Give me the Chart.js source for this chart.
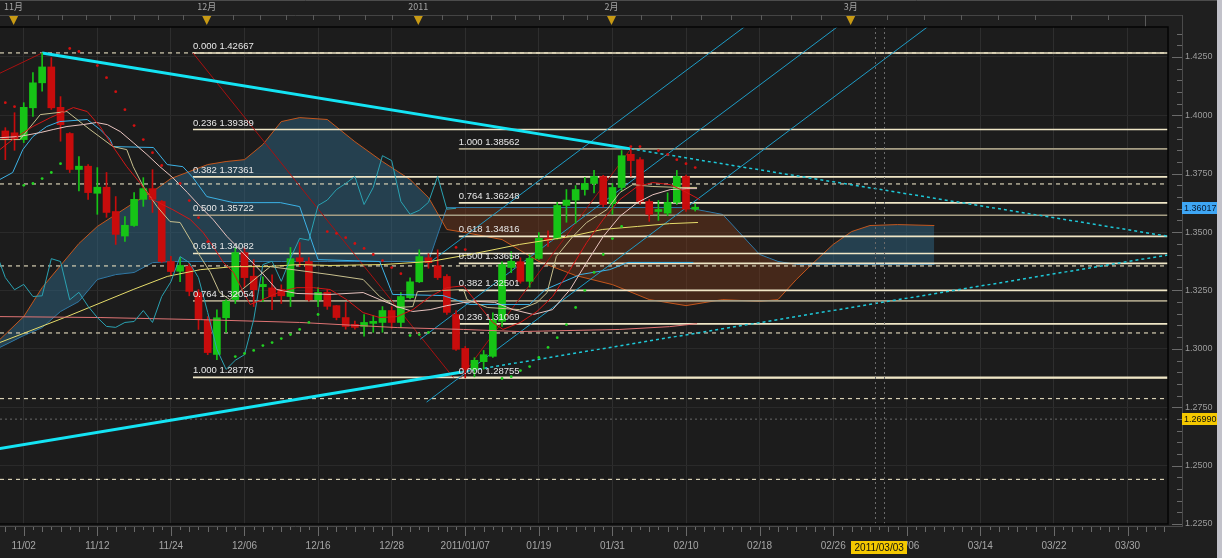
<!DOCTYPE html>
<html>
<head>
<meta charset="utf-8">
<title>EUR/USD 日足</title>
<script src="https://cdn.jsdelivr.net/npm/chart.js@4.4.0/dist/chart.umd.min.js"></script>
<style>
  html, body { margin: 0; padding: 0; background: #1f1f1f; overflow: hidden; }
  #wrap { width: 1222px; height: 558px; }
  canvas { display: block; }
</style>
</head>
<body>
<div id="wrap"><canvas id="chart" width="1222" height="558"></canvas></div>
<script>
// ---- daily candles (slot -2 = 10/29 ... slot 73 = 02/11) ----
const firstSlot = -2;
const opens  = [1.3933,1.3925,1.3896,1.4032,1.4139,1.4207,1.4034,1.3922,1.3768,1.3782,1.3666,1.3692,1.3588,1.3483,1.3528,1.3640,1.3686,1.3631,1.3374,1.3332,1.3353,1.3241,1.3125,1.2976,1.3133,1.3211,1.3412,1.3311,1.3266,1.3261,1.3254,1.3224,1.3390,1.3374,1.3210,1.3242,1.3185,1.3134,1.3105,1.3096,1.3109,1.3113,1.3164,1.3113,1.3219,1.3287,1.3390,1.3356,1.3310,1.3147,1.3002,1.2912,1.2945,1.2968,1.3118,1.3348,1.3373,1.3289,1.3387,1.3473,1.3473,1.3614,1.3637,1.3682,1.3708,1.3738,1.3622,1.3691,1.3833,1.3810,1.3631,1.3588,1.3581,1.3627,1.3738,1.3598];
const highs  = [1.3947,1.4011,1.4054,1.4183,1.42667,1.4247,1.4080,1.3926,1.3823,1.3789,1.3776,1.3755,1.3652,1.3566,1.3669,1.3733,1.3767,1.3635,1.3396,1.3391,1.3366,1.3254,1.3138,1.3167,1.3211,1.3433,1.3433,1.3382,1.3308,1.3317,1.3274,1.3434,1.3455,1.3391,1.3262,1.3254,1.3186,1.3198,1.3119,1.3147,1.3143,1.3181,1.3181,1.3241,1.3304,1.3424,1.3407,1.3424,1.3318,1.3164,1.3010,1.2962,1.2993,1.3154,1.3373,1.3416,1.3390,1.3404,1.3498,1.3505,1.3627,1.3682,1.3699,1.3734,1.3764,1.3743,1.3708,1.3849,1.38562,1.3819,1.3640,1.3635,1.3668,1.3764,1.3744,1.3620];
const lows   = [1.3810,1.3850,1.3883,1.3995,1.4103,1.4025,1.3889,1.3755,1.3676,1.3640,1.3576,1.3563,1.3447,1.3460,1.3524,1.3610,1.3584,1.3370,1.3315,1.3288,1.3227,1.3083,1.2975,1.2954,1.3070,1.3194,1.3265,1.3181,1.3202,1.3168,1.3194,1.3181,1.3352,1.3204,1.3181,1.3169,1.3124,1.3084,1.3084,1.3054,1.3071,1.3071,1.3088,1.3092,1.3214,1.3284,1.3345,1.3297,1.3147,1.2993,1.28755,1.2880,1.2913,1.2963,1.3096,1.3326,1.3281,1.3264,1.3383,1.3439,1.3469,1.3542,1.3538,1.3658,1.3668,1.3608,1.3576,1.3678,1.3739,1.3618,1.3546,1.3550,1.3570,1.3618,1.3588,1.3590];
const closes = [1.3896,1.3900,1.4034,1.4139,1.4207,1.4032,1.3960,1.3768,1.3782,1.3669,1.3692,1.3584,1.3490,1.3529,1.3640,1.3686,1.3640,1.3374,1.3331,1.3357,1.3246,1.3125,1.2984,1.3133,1.3204,1.3412,1.3305,1.3253,1.3276,1.3224,1.3227,1.3386,1.3374,1.3210,1.3242,1.3182,1.3134,1.3096,1.3092,1.3113,1.3117,1.3164,1.3113,1.3224,1.3287,1.3395,1.3369,1.3305,1.3156,1.2998,1.2912,1.2951,1.2975,1.3125,1.3361,1.3375,1.3289,1.3387,1.3473,1.3465,1.3614,1.3637,1.3682,1.3708,1.3738,1.3618,1.3691,1.3827,1.3806,1.3631,1.3576,1.3593,1.3627,1.3738,1.3598,1.36017];

// ---- date axis ----
const dateSlots  = [0, 8, 16, 24, 32, 40, 48, 56, 64, 72, 80, 88, 96, 104, 112, 120];
const dateLabels = ['11/02','11/12','11/24','12/06','12/16','12/28','2011/01/07','01/19','01/31','02/10','02/18','02/26','03/06','03/14','03/22','03/30'];
const monthSlots  = [-1.1, 19.9, 42.9, 63.9, 89.9, 121.9];
const monthLabels = ['11月', '12月', '2011', '2月', '3月', ''];
const cursorSlot  = 93;
const cursorDate  = '2011/03/03';
const cursorPrice = 1.26990;
const lastPrice   = 1.36017;

// ---- price axis ----
const priceMin = 1.2250, priceMax = 1.4378;

// ---- fibonacci retracements ----
const fibRatiosA = ['0.000','0.236','0.382','0.500','0.618','0.764','1.000'];
const fibPricesA = [1.42667, 1.39389, 1.37361, 1.35722, 1.34082, 1.32054, 1.28776];
const fibStartA  = 18.4;
const fibRatiosB = ['1.000','0.764','0.618','0.500','0.382','0.236','0.000'];
const fibPricesB = [1.38562, 1.36248, 1.34816, 1.33658, 1.32501, 1.31069, 1.28755];
const fibStartB  = 47.3;

// ---- horizontal level lines ----
const dashLevels = [1.4267, 1.3706, 1.3355, 1.3068, 1.2787, 1.2441];

// ---- trend lines [slot, price] ----
const trendDown    = [[2, 1.42667], [66, 1.38562]];
const trendDownExt = [[66, 1.38562], [124.4, 1.3482]];
const trendUp      = [[-2.6, 1.2573], [47.5, 1.2900]];
const trendUpExt   = [[47.5, 1.2900], [124.4, 1.3402]];
const channelA = [[43.8, 1.3360], [78.4, 1.4380]];
const channelB = [[43.1, 1.3041], [88.5, 1.4380]];
const channelC = [[43.8, 1.2772], [98.3, 1.4380]];
const swingLineA = [[-2.6, 1.4180], [2, 1.42667]];
const swingLineB = [[18.4, 1.42667], [46.7, 1.28776]];
const swingLineC = [[47.5, 1.28755], [66, 1.38562]];

// ---- ichimoku cloud ----
const cloudSlots = [-2.6,0,2,4,6,8,10,12,14,16,18,20,22,24,26,28,30,33,36,39,42,44,46,48,52,56,60,64,68,72,76,80,82,84,86,88,90,92,95,99];
const senkouA = [1.3040,1.3138,1.3262,1.3357,1.3451,1.3524,1.3575,1.3626,1.3673,1.3729,1.3759,1.3789,1.3802,1.3810,1.3875,1.3973,1.3990,1.3982,1.3887,1.3802,1.3725,1.3648,1.3511,1.3498,1.3468,1.3374,1.3314,1.3275,1.3211,1.3185,1.3211,1.3203,1.3211,1.3297,1.3374,1.3447,1.3502,1.3528,1.3532,1.3528];
const senkouB = [1.3006,1.3057,1.3091,1.3160,1.3203,1.3297,1.3318,1.3327,1.3369,1.3374,1.3374,1.3374,1.3374,1.3374,1.3374,1.3374,1.3374,1.3374,1.3374,1.3374,1.3374,1.3374,1.3605,1.3605,1.3605,1.3605,1.3605,1.3605,1.3605,1.3605,1.3575,1.3404,1.3374,1.3361,1.3361,1.3361,1.3361,1.3361,1.3361,1.3361];
const kijun = [[-2.6,1.3725],[-1.2,1.3755],[-0.1,1.3853],[1,1.3909],[2.5,1.3952],[3.9,1.3973],[6.9,1.3982],[8.3,1.3939],[9.4,1.3896],[9.7,1.3866],[14.1,1.3862],[15.6,1.3789],[17.3,1.3780],[18.4,1.3733],[19.9,1.3652],[22.8,1.3626],[27.9,1.3626],[30,1.3609],[32,1.3382],[38.7,1.3374],[40.1,1.3233],[45.6,1.3228],[48.5,1.3190],[55,1.3190],[56.7,1.3254],[60.5,1.3318],[63.7,1.3339],[65.7,1.3370],[72.8,1.3370]];
const tenkan = [[-2.6,1.3896],[-0.4,1.3896],[1.8,1.4003],[4.7,1.4016],[5.8,1.3982],[7.2,1.3939],[9.7,1.3866],[11.2,1.3853],[11.9,1.3780],[13,1.3695],[14.5,1.3609],[15.9,1.3545],[17,1.3541],[18.1,1.3468],[19.2,1.3395],[20.3,1.3327],[21.3,1.3241],[22.4,1.3211],[26.8,1.3352],[30.8,1.3331],[33.3,1.3318],[36.9,1.3297],[38.7,1.3224],[40.6,1.3177],[42.3,1.3181],[42.8,1.3245],[47.8,1.3254],[48.2,1.3211],[50.4,1.3177],[53.9,1.3168],[55.8,1.3198],[56.9,1.3241],[57.9,1.3395],[59.7,1.3481],[61.2,1.3541],[63.4,1.3596],[64.8,1.3669],[66.2,1.3703],[68.4,1.3695],[71.3,1.3691],[73.2,1.3691]];

// ---- moving averages [slot, price] ----
const maShort = [[-2.6,1.3853],[-1.2,1.3896],[1,1.3952],[2.9,1.3990],[5.4,1.4033],[6.9,1.4016],[8.3,1.3952],[9.7,1.3866],[11.2,1.3780],[12.6,1.3712],[14,1.3639],[16.2,1.3596],[18.1,1.3554],[19.5,1.3498],[20.6,1.3438],[21.7,1.3370],[22.8,1.3327],[24.6,1.3190],[26,1.3211],[27.9,1.3245],[29.7,1.3262],[31.5,1.3262],[33.3,1.3254],[35.1,1.3211],[36.9,1.3155],[38.7,1.3134],[40.6,1.3138],[42.3,1.3168],[44.2,1.3224],[46,1.3262],[47.8,1.3270],[49.6,1.3181],[51,1.3113],[52.1,1.3083],[54,1.3113],[55.8,1.3160],[57.5,1.3224],[59.4,1.3339],[61.2,1.3455],[63,1.3554],[64.8,1.3639],[66.7,1.3695],[68.4,1.3712],[70.3,1.3703],[72.1,1.3669],[73.5,1.3639]];
const maMid = [[-2.6,1.3904],[-0.5,1.3909],[1.8,1.3926],[3.2,1.3939],[4.7,1.3952],[6.4,1.3960],[7.9,1.3969],[9.1,1.3960],[10.5,1.3930],[11.9,1.3883],[13.4,1.3832],[14.8,1.3780],[16.2,1.3733],[17.8,1.3669],[19.2,1.3609],[20.6,1.3553],[22.1,1.3481],[23.5,1.3425],[25.7,1.3335],[27.5,1.3254],[29.7,1.3237],[33.3,1.3233],[36.9,1.3241],[38.7,1.3211],[40.6,1.3181],[42.3,1.3160],[44.2,1.3168],[46,1.3185],[47.8,1.3198],[49.4,1.3203],[51.2,1.3199],[53.2,1.3168],[55.4,1.3147],[57.5,1.3168],[59.4,1.3254],[61.2,1.3370],[63,1.3481],[64.8,1.3567],[66.7,1.3626],[68.4,1.3660],[70.3,1.3682],[72.1,1.3686],[73.2,1.3686]];
const maLong = [[-2.6,1.3027],[4.7,1.3138],[11.9,1.3254],[15.6,1.3310],[19.2,1.3339],[22.8,1.3352],[26.4,1.3352],[30,1.3361],[33.3,1.3357],[39.1,1.3361],[44.2,1.3374],[48.5,1.3404],[53.9,1.3447],[59.4,1.3481],[62.9,1.3511],[66.7,1.3524],[70.2,1.3536],[73.3,1.3541]];
const maLonger = [[-2.6,1.3138],[8.3,1.3134],[19.2,1.3125],[30,1.3113],[40.6,1.3091],[47.8,1.3083],[53.9,1.3074],[64.8,1.3083],[70.2,1.3095],[73.2,1.3108]];

// ---- parabolic SAR ----
const sarAbove = [[-2,1.4054],[-1,1.4037],[5,1.4286],[6,1.4273],[8,1.4213],[9,1.4161],[10,1.4101],[11,1.4024],[12,1.3956],[13,1.3896],[14,1.3840],[15,1.3785],[17,1.3708],[18,1.3635],[19,1.3562],[20,1.3459],[33,1.3502],[34,1.3494],[35,1.3476],[36,1.3451],[37,1.3430],[38,1.3404],[39,1.3378],[40,1.3348],[41,1.3322],[47,1.3434],[48,1.3425],[66,1.3866],[67,1.3866],[69,1.3849],[70,1.3832],[71,1.3810],[72,1.3793],[73,1.3776]];
const sarBelow = [[0,1.3700],[1,1.3708],[2,1.3729],[3,1.3755],[4,1.3793],[23,1.2967],[24,1.2980],[25,1.2993],[26,1.3014],[27,1.3027],[28,1.3044],[29,1.3061],[30,1.3083],[31,1.3113],[32,1.3147],[42,1.3057],[43,1.3061],[44,1.3070],[52,1.2873],[53,1.2881],[54,1.2907],[55,1.2924],[56,1.2963],[57,1.3006],[58,1.3048],[59,1.3104],[60,1.3177],[61,1.3250],[62,1.3327],[63,1.3404],[64,1.3472],[65,1.3524]];

// ---------------------------------------------------------------
const slots = opens.map((_, i) => firstSlot + i);
const UP = '#16c416', DOWN = '#c80c0c';
const candleColors = slots.map((_, i) => closes[i] >= opens[i] ? UP : DOWN);
const xy = arr => arr.map(([x, y]) => ({ x, y }));
const seg = (from, to, y) => [{ x: from, y }, { x: to, y }];
const X_MIN = -2.58, X_MAX = 124.4;

function line(data, color, width, order, extra) {
  return Object.assign({
    type: 'line', data, borderColor: color, borderWidth: width,
    pointRadius: 0, pointHoverRadius: 0, fill: false, tension: 0, order
  }, extra || {});
}

const datasets = [];
// cloud: B first so A can fill towards it
datasets.push(line(cloudSlots.map((x, i) => ({ x, y: senkouB[i] })), '#2a86c0', 1, 100));
datasets.push(line(cloudSlots.map((x, i) => ({ x, y: senkouA[i] })), '#c4561c', 1, 99, {
  fill: { target: 0, above: 'rgba(46,100,130,0.50)', below: 'rgba(120,56,24,0.45)' }
}));

// level lines
dashLevels.forEach(v => datasets.push(line(seg(X_MIN, X_MAX, v), '#d8d0b4', 1.2, 95, { borderDash: [4, 4] })));
datasets.push(line(seg(X_MIN, X_MAX, cursorPrice), '#6a6a6a', 1, 95, { borderDash: [2, 3] }));

// fibonacci
const tanA = [3, 5], tanB = [0];
fibPricesA.forEach((v, i) => datasets.push(line(seg(fibStartA, X_MAX, v), tanA.includes(i) ? '#a69e84' : '#efe6c6', 1.6, 90)));
fibPricesB.forEach((v, i) => datasets.push(line(seg(fibStartB, X_MAX, v), tanB.includes(i) ? '#a69e84' : '#efe6c6', 1.6, 90)));

// channel, swing and trend lines
[channelA, channelB, channelC].forEach(c => datasets.push(line(xy(c), '#1e9cc6', 1, 85)));
[swingLineA, swingLineB, swingLineC].forEach(c => datasets.push(line(xy(c), '#a81010', 1, 85)));
datasets.push(line(xy(trendDownExt), '#1ec8d8', 1.5, 84, { borderDash: [3, 3] }));
datasets.push(line(xy(trendUpExt), '#1ec8d8', 1.5, 84, { borderDash: [3, 3] }));
datasets.push(line(xy(trendDown), '#14e4f4', 3, 83));
datasets.push(line(xy(trendUp), '#14e4f4', 3, 83));

// candles
datasets.push({
  type: 'bar', order: 61, grouped: false, barThickness: 1, borderWidth: 0,
  data: slots.map((x, i) => ({ x, y: [lows[i], highs[i]] })), backgroundColor: candleColors
});
datasets.push({
  type: 'bar', order: 60, grouped: false, barThickness: 7, borderWidth: 0, minBarLength: 2,
  data: slots.map((x, i) => ({ x, y: [opens[i], closes[i]] })), backgroundColor: candleColors
});

// indicator lines
datasets.push(line(xy(maLonger), '#e07474', 1, 50));
datasets.push(line(xy(maLong), '#e6dc6a', 1, 50));
datasets.push(line(slots.map((s, i) => ({ x: s - 26, y: closes[i] })), '#2aa2b2', 1, 49));
datasets.push(line(xy(kijun), '#3cb2e6', 1, 48));
datasets.push(line(xy(tenkan), '#c8c08e', 1, 47));
datasets.push(line(xy(maMid), '#e8c4c0', 1, 46));
datasets.push(line(xy(maShort), '#d41616', 1, 45));

// parabolic SAR
datasets.push(line(xy(sarAbove), 'transparent', 0, 30, { showLine: false, pointRadius: 1.4, pointBackgroundColor: '#d41010', pointBorderWidth: 0 }));
datasets.push(line(xy(sarBelow), 'transparent', 0, 30, { showLine: false, pointRadius: 1.4, pointBackgroundColor: '#22d022', pointBorderWidth: 0 }));

// ---------------------------------------------------------------
const AXIS_X = 1182;   // outer frame line on the price side
const TOP_Y = 15;      // month strip baseline

const framePlugin = {
  id: 'frame',
  beforeDraw(chart) {
    const { ctx, chartArea: a, width, height } = chart;
    ctx.save();
    ctx.fillStyle = '#1f1f1f';
    ctx.fillRect(0, 0, width, height);
    ctx.fillStyle = '#1c1c1c';
    ctx.fillRect(a.left, a.top, a.right - a.left, a.bottom - a.top);
    ctx.restore();
  },
  afterDatasetsDraw(chart) {
    const { ctx, scales: { x, y } } = chart;
    ctx.save();
    ctx.font = "9.5px 'Liberation Sans', sans-serif";
    ctx.fillStyle = '#e8e8e8';
    ctx.textBaseline = 'alphabetic';
    ctx.textAlign = 'left';
    fibRatiosA.forEach((r, i) => ctx.fillText(r + ' ' + fibPricesA[i].toFixed(5), x.getPixelForValue(fibStartA), y.getPixelForValue(fibPricesA[i]) - 4));
    fibRatiosB.forEach((r, i) => ctx.fillText(r + ' ' + fibPricesB[i].toFixed(5), x.getPixelForValue(fibStartB), y.getPixelForValue(fibPricesB[i]) - 4));
    // cursor verticals
    ctx.strokeStyle = '#6a6a6a';
    ctx.setLineDash([2, 3]);
    ctx.lineWidth = 1;
    [cursorSlot - 0.5, cursorSlot + 0.5].forEach(s => {
      const px = Math.round(x.getPixelForValue(s)) + 0.5;
      ctx.beginPath(); ctx.moveTo(px, chart.chartArea.top); ctx.lineTo(px, chart.chartArea.bottom); ctx.stroke();
    });
    ctx.restore();
  },
  afterDraw(chart) {
    const { ctx, chartArea: a, scales: { x, y }, width, height } = chart;
    ctx.save();
    ctx.lineWidth = 1;

    // top strip
    ctx.strokeStyle = '#4c4c4c';
    ctx.beginPath(); ctx.moveTo(0, 0.5); ctx.lineTo(width, 0.5); ctx.stroke();
    ctx.strokeStyle = '#444';
    ctx.beginPath(); ctx.moveTo(0, TOP_Y + 0.5); ctx.lineTo(AXIS_X, TOP_Y + 0.5); ctx.stroke();
    ctx.strokeStyle = '#5a5a5a';
    for (let m = 0; m < monthSlots.length - 1; m++) {
      for (let k = 1; k < 8; k++) {
        const px = Math.round(x.getPixelForValue(monthSlots[m] + (monthSlots[m + 1] - monthSlots[m]) * k / 8)) + 0.5;
        ctx.beginPath(); ctx.moveTo(px, TOP_Y); ctx.lineTo(px, TOP_Y + 5); ctx.stroke();
      }
    }
    ctx.font = "9px 'Noto Sans CJK JP', 'Liberation Sans', sans-serif";
    ctx.textAlign = 'center';
    ctx.textBaseline = 'middle';
    monthSlots.forEach((s, i) => {
      const px = x.getPixelForValue(s);
      if (monthLabels[i]) {
        ctx.fillStyle = '#a4a4a4';
        ctx.fillText(monthLabels[i], px, 7);
        ctx.fillStyle = '#c89a14';
        ctx.beginPath(); ctx.moveTo(px - 4.5, TOP_Y + 1); ctx.lineTo(px + 4.5, TOP_Y + 1); ctx.lineTo(px, TOP_Y + 10); ctx.closePath(); ctx.fill();
      } else {
        ctx.strokeStyle = '#5a5a5a';
        ctx.beginPath(); ctx.moveTo(Math.round(px) + 0.5, TOP_Y); ctx.lineTo(Math.round(px) + 0.5, a.top); ctx.stroke();
      }
    });

    // plot frame
    ctx.strokeStyle = '#050505';
    ctx.lineWidth = 1.5;
    ctx.beginPath();
    ctx.moveTo(a.left, a.top); ctx.lineTo(a.right, a.top); ctx.lineTo(a.right, a.bottom); ctx.lineTo(a.left, a.bottom);
    ctx.stroke();

    // bottom axis line + ticks
    ctx.lineWidth = 1;
    ctx.strokeStyle = '#4a4a4a';
    ctx.beginPath(); ctx.moveTo(0, a.bottom + 2.5); ctx.lineTo(AXIS_X, a.bottom + 2.5); ctx.stroke();
    ctx.strokeStyle = '#6a6a6a';
    for (let s = -2; s <= 124; s++) {
      const px = Math.round(x.getPixelForValue(s)) + 0.5;
      const len = s % 8 === 0 ? 9 : (s % 2 === 0 ? 5 : 3);
      ctx.beginPath(); ctx.moveTo(px, a.bottom + 3); ctx.lineTo(px, a.bottom + 3 + len); ctx.stroke();
    }

    // price axis line + ticks
    ctx.strokeStyle = '#4a4a4a';
    ctx.beginPath(); ctx.moveTo(AXIS_X + 0.5, TOP_Y); ctx.lineTo(AXIS_X + 0.5, a.bottom + 3); ctx.stroke();
    ctx.strokeStyle = '#6a6a6a';
    for (let k = 0; k <= 43; k++) {
      const v = 1.225 + k * 0.005;
      if (v > priceMax) break;
      const py = Math.round(y.getPixelForValue(v)) + 0.5;
      const len = k % 5 === 0 ? 10 : 5;
      ctx.beginPath(); ctx.moveTo(AXIS_X - len, py); ctx.lineTo(AXIS_X, py); ctx.stroke();
    }

    // price tags
    const tag = (v, bg, fg) => {
      const py = y.getPixelForValue(v);
      ctx.fillStyle = bg;
      ctx.fillRect(AXIS_X, Math.round(py) - 6, 36, 12);
      ctx.fillStyle = fg;
      ctx.font = "9px 'Liberation Sans', sans-serif";
      ctx.textAlign = 'left';
      ctx.textBaseline = 'middle';
      ctx.fillText(v.toFixed(5), AXIS_X + 2, Math.round(py) + 0.5);
    };
    tag(lastPrice, '#3ea6f4', '#0a1a30');
    tag(cursorPrice, '#f4c800', '#101010');

    // cursor date tag
    const cx = x.getPixelForValue(cursorSlot);
    ctx.fillStyle = '#f4c800';
    ctx.fillRect(Math.round(cx) - 28, 541, 56, 13);
    ctx.fillStyle = '#101010';
    ctx.font = "10px 'Liberation Sans', sans-serif";
    ctx.textAlign = 'center';
    ctx.textBaseline = 'middle';
    ctx.fillText(cursorDate, cx, 548);

    // scrollbar
    ctx.fillStyle = '#c2c2ca';
    ctx.fillRect(width - 5, 0, 5, height);
    ctx.restore();
  }
};

const dateMap = {};
dateSlots.forEach((s, i) => { dateMap[s] = dateLabels[i]; });

new Chart(document.getElementById('chart'), {
  type: 'line',
  data: { datasets },
  plugins: [framePlugin],
  options: {
    responsive: false,
    devicePixelRatio: 1,
    animation: false,
    events: [],
    layout: { autoPadding: false, padding: { top: 27, left: 0, right: 0, bottom: 0 } },
    plugins: { legend: { display: false }, tooltip: { enabled: false } },
    scales: {
      x: {
        type: 'linear', min: X_MIN, max: X_MAX, offset: false,
        afterBuildTicks: s => { s.ticks = []; for (let v = -2; v <= 124; v++) s.ticks.push({ value: v }); },
        afterFit: s => { s.height = 34; s.paddingLeft = 0; s.paddingRight = 0; },
        ticks: {
          autoSkip: false, maxRotation: 0, padding: 16, color: '#a6a6a6',
          font: { size: 10, family: "'Liberation Sans', sans-serif" },
          callback: v => dateMap[v] || ''
        },
        grid: {
          offset: false, drawTicks: false,
          color: c => (c.tick && c.tick.value % 8 === 0) ? '#2e2e2e' : 'rgba(0,0,0,0)'
        },
        border: { display: false }
      },
      y: {
        type: 'linear', position: 'right', min: priceMin, max: priceMax,
        afterBuildTicks: s => { s.ticks = []; for (let k = 0; k <= 42; k++) s.ticks.push({ value: +(1.225 + k * 0.005).toFixed(3) }); },
        afterFit: s => { s.width = 54; s.paddingTop = 0; s.paddingBottom = 0; },
        ticks: {
          autoSkip: false, padding: 17, color: '#9c9c9c',
          font: { size: 9, family: "'Liberation Sans', sans-serif" },
          callback: v => (Math.round(v * 1000) % 25 === 0) ? v.toFixed(4) : ''
        },
        grid: {
          drawTicks: false,
          color: c => (c.tick && Math.round(c.tick.value * 1000) % 25 === 0) ? '#2a2a2a' : 'rgba(0,0,0,0)'
        },
        border: { display: false }
      }
    }
  }
});
</script>
</body>
</html>
